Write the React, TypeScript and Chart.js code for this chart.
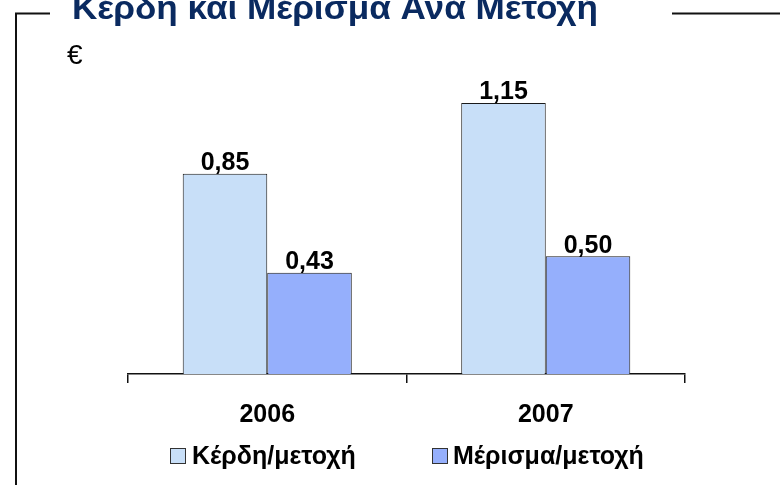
import React, { useEffect, useRef } from "react";
import { Chart, registerables } from "chart.js";

Chart.register(...registerables);

// ---- data ----
const categories = ["2006", "2007"];
const earningsPerShare = [0.85, 1.15];
const dividendPerShare = [0.43, 0.5];
const seriesNames = ["Κέρδη/μετοχή", "Μέρισμα/μετοχή"];
const chartTitle = "Κέρδη και Μέρισμα Ανά Μετοχή";
const unitLabel = "€";

const FONT = '"Liberation Sans", Arial, Helvetica, sans-serif';

const formatValue = (v: number) => v.toFixed(2).replace(".", ",");

const decorPlugin = {
  id: "decor",
  afterDraw(chart: any) {
    const ctx = chart.ctx as CanvasRenderingContext2D;
    ctx.save();
    // frame lines
    ctx.strokeStyle = "#111";
    ctx.lineWidth = 2;
    ctx.beginPath();
    ctx.moveTo(16, 485);
    ctx.lineTo(16, 13.5);
    ctx.lineTo(50, 13.5);
    ctx.moveTo(672, 13.5);
    ctx.lineTo(780, 13.5);
    ctx.stroke();
    // title
    ctx.fillStyle = "#0A2A60";
    ctx.font = `bold 34px ${FONT}`;
    ctx.textAlign = "left";
    ctx.textBaseline = "alphabetic";
    const w = ctx.measureText(chartTitle).width;
    const target = 526;
    ctx.save();
    ctx.translate(72, 19);
    ctx.scale(target / w, 1);
    ctx.fillText(chartTitle, 0, 0);
    ctx.restore();
    // unit
    ctx.fillStyle = "#000";
    ctx.font = `28px ${FONT}`;
    ctx.fillText(unitLabel, 67, 64);

    // value labels on bars
    ctx.font = `bold 25px ${FONT}`;
    ctx.textAlign = "center";
    chart.data.datasets.forEach((ds: any, di: number) => {
      const meta = chart.getDatasetMeta(di);
      meta.data.forEach((bar: any, i: number) => {
        ctx.fillText(formatValue(ds.data[i]), bar.x, bar.y - 3.5);
      });
    });

    // legend
    const legendItems = [
      { boxX: 170, textX: 192 },
      { boxX: 432, textX: 453 },
    ];
    ctx.font = `bold 25px ${FONT}`;
    ctx.textAlign = "left";
    chart.data.datasets.forEach((ds: any, di: number) => {
      const p = legendItems[di];
      ctx.fillStyle = ds.backgroundColor;
      ctx.fillRect(p.boxX, 448, 16, 16);
      ctx.strokeStyle = "#333";
      ctx.lineWidth = 1;
      ctx.strokeRect(p.boxX + 0.5, 448.5, 15, 15);
      ctx.fillStyle = "#000";
      ctx.fillText(ds.label, p.textX, 464);
    });
    ctx.restore();
  },
};

export default function App() {
  const ref = useRef<HTMLCanvasElement | null>(null);
  useEffect(() => {
    if (!ref.current) return;
    const chart = new Chart(ref.current, {
      type: "bar",
      data: {
        labels: categories,
        datasets: [
          {
            label: seriesNames[0],
            data: earningsPerShare,
            backgroundColor: "#C8DFF8",
            borderColor: "#1a1a1a",
            borderWidth: 1,
            categoryPercentage: 0.607,
            barPercentage: 1,
          },
          {
            label: seriesNames[1],
            data: dividendPerShare,
            backgroundColor: "#95AFFC",
            borderColor: "#1a1a1a",
            borderWidth: 1,
            categoryPercentage: 0.607,
            barPercentage: 1,
          },
        ],
      },
      options: {
        responsive: false,
        animation: false,
        devicePixelRatio: 1,
        layout: { padding: { left: 128, right: 95, top: 44, bottom: 38 } },
        plugins: {
          legend: { display: false },
          tooltip: { enabled: false },
          title: { display: false },
        },
        scales: {
          x: {
            grid: {
              display: true,
              drawOnChartArea: false,
              drawTicks: true,
              tickLength: 9,
              color: "#111",
              lineWidth: 1.5,
              offset: true,
            },
            border: { display: true, color: "#111", width: 1.5 },
            ticks: {
              color: "#000",
              font: { family: FONT, size: 25, weight: "bold" },
              padding: 17,
            },
          },
          y: {
            display: false,
            min: 0,
            max: 1.4,
          },
        },
      },
      plugins: [decorPlugin],
    });
    return () => chart.destroy();
  }, []);
  return (
    <div style={{ position: "absolute", left: 0, top: 0, width: 780, height: 485, background: "#fff" }}>
      <canvas ref={ref} width={780} height={485} />
    </div>
  );
}
